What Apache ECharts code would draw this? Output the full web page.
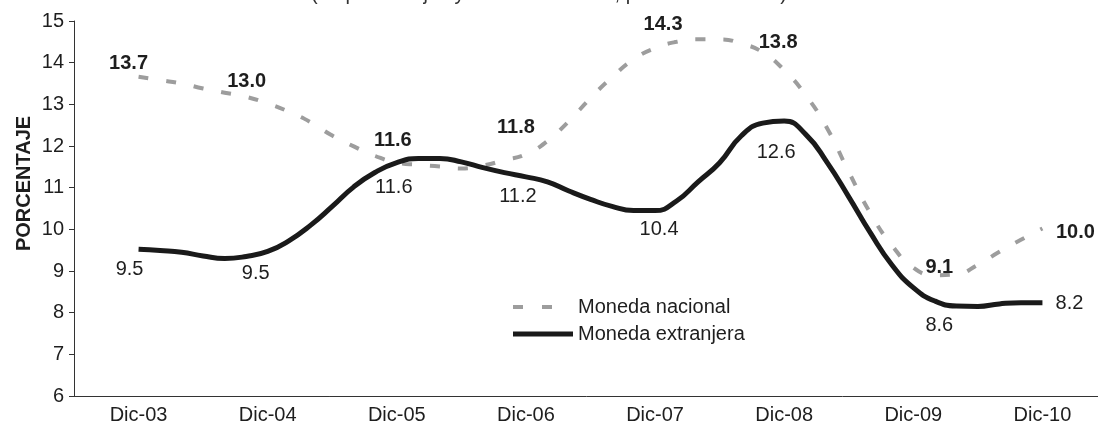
<!DOCTYPE html>
<html>
<head>
<meta charset="utf-8">
<script src="https://cdn.jsdelivr.net/npm/echarts@6/dist/echarts.min.js"></script>
<style>
  html, body { margin: 0; padding: 0; background: #fff; }
  #chart { width: 1098px; height: 427px; }
</style>
</head>
<body>
<div id="chart"></div>
<script>
// etiquetas del eje X (un grupo por año)
const anios = ['Dic-03', 'Dic-04', 'Dic-05', 'Dic-06', 'Dic-07', 'Dic-08', 'Dic-09', 'Dic-10'];
// meses contados desde Dic-03, una lectura cada dos meses
const meses = [0, 2, 4, 6, 8, 10, 12, 14, 16, 18, 20, 22, 24, 26, 28, 30, 32, 34, 36, 38, 40, 42,
  44, 46, 48, 50, 52, 54, 56, 58, 60, 62, 64, 66, 68, 70, 72, 74, 76, 78, 80, 82, 84];
const monedaNacional = [13.66, 13.58, 13.50, 13.38, 13.28, 13.18, 13.02, 12.82, 12.57, 12.25, 11.99,
  11.76, 11.60, 11.55, 11.51, 11.46, 11.53, 11.66, 11.80, 12.12, 12.60, 13.15, 13.65, 14.08, 14.35,
  14.50, 14.56, 14.56, 14.46, 14.25, 13.82, 13.22, 12.42, 11.38, 10.39, 9.62, 9.08, 8.90, 8.92,
  9.15, 9.46, 9.75, 10.02];
const monedaExtranjera = [9.52, 9.49, 9.45, 9.36, 9.30, 9.35, 9.47, 9.73, 10.10, 10.55, 11.02,
  11.37, 11.60, 11.70, 11.70, 11.62, 11.48, 11.36, 11.26, 11.14, 10.92, 10.72, 10.55, 10.45, 10.45,
  10.68, 11.14, 11.60, 12.24, 12.55, 12.60, 12.28, 11.60, 10.78, 9.92, 9.15, 8.60, 8.28, 8.16,
  8.15, 8.21, 8.24, 8.24];
// valores rotulados a diciembre de cada año
const rotulosMN = ['13.7', '13.0', '11.6', '11.8', '14.3', '13.8', '9.1', '10.0'];
const rotulosME = ['9.5', '9.5', '11.6', '11.2', '10.4', '12.6', '8.6', '8.2'];

const fuente = 'Liberation Sans, Arial, sans-serif';
// desplazamiento de cada rótulo respecto a su punto
const despMN = [[-10, -13], [-21, -22], [-4, -22], [-10, -27], [8, -24], [-6, -28], [26, 0], [33, 4]];
const despME = [[-9, 20], [-12, 22], [-3, 25], [-8, 20], [4, 19], [-8, 31], [26, 38], [27, 1]];

function armarSerie(valores, rotulos, desp, negrita) {
  return valores.map((v, i) => {
    const punto = { value: [meses[i] + 6, v] };
    if (meses[i] % 12 === 0) {
      const k = meses[i] / 12;
      punto.label = {
        show: true, position: 'inside', offset: desp[k], formatter: rotulos[k],
        fontSize: 20, fontFamily: fuente, color: '#1e1e1e',
        fontWeight: negrita ? 'bold' : 'normal'
      };
    }
    return punto;
  });
}

const chart = echarts.init(document.getElementById('chart'));
chart.setOption({
  animation: false,
  title: {
    text: '(en porcentajes y tasas nominales, promedio del año)',
    left: 'center', top: -21,
    textStyle: { fontSize: 20, fontWeight: 'normal', color: '#333', fontFamily: fuente }
  },
  legend: {
    orient: 'vertical', left: 513, top: 297, padding: 0,
    itemWidth: 60, itemHeight: 5, itemGap: 7,
    textStyle: { fontSize: 20, color: '#1e1e1e', fontFamily: fuente },
    data: [
      { name: 'Moneda nacional', icon: 'path://M0,0h10v4h-10zM29,0h10v4h-10zM60,0h0v4h0z', itemStyle: { color: '#9d9d9d' } },
      { name: 'Moneda extranjera', icon: 'rect', itemStyle: { color: '#1a1a1a' } }
    ]
  },
  grid: { left: 74, right: -9, top: 21, bottom: 31, outerBoundsMode: 'none' },
  xAxis: [
    {
      type: 'category', data: anios, boundaryGap: true,
      axisLine: { lineStyle: { color: '#333', width: 1 } },
      axisTick: { length: 5, lineStyle: { color: '#333' } },
      axisLabel: { fontSize: 20, color: '#1e1e1e', fontFamily: fuente, margin: 9 }
    },
    { type: 'value', min: 0, max: 96, show: false }
  ],
  yAxis: {
    type: 'value', min: 6, max: 15, interval: 1,
    name: 'PORCENTAJE', nameLocation: 'middle', nameRotate: 90, nameGap: 40, nameMoveOverlap: false,
    nameTextStyle: { fontSize: 20, fontWeight: 'bold', color: '#1e1e1e', fontFamily: fuente, padding: [0, 0, 0, 50] },
    axisLine: { show: true, lineStyle: { color: '#333', width: 1 } },
    axisTick: { show: true, length: 5, lineStyle: { color: '#333' } },
    axisLabel: { fontSize: 20, color: '#1e1e1e', fontFamily: fuente, margin: 10 },
    splitLine: { show: false }
  },
  series: [
    {
      name: 'Moneda nacional', type: 'line', xAxisIndex: 1, smooth: true,
      symbol: 'circle', symbolSize: 1, showAllSymbol: true,
      itemStyle: { color: 'rgba(0,0,0,0)' },
      lineStyle: { color: '#9d9d9d', width: 4, type: [10, 18] },
      emphasis: { disabled: true },
      data: armarSerie(monedaNacional, rotulosMN, despMN, true)
    },
    {
      name: 'Moneda extranjera', type: 'line', xAxisIndex: 1, smooth: true,
      symbol: 'circle', symbolSize: 1, showAllSymbol: true,
      itemStyle: { color: 'rgba(0,0,0,0)' },
      lineStyle: { color: '#1a1a1a', width: 5 },
      emphasis: { disabled: true },
      data: armarSerie(monedaExtranjera, rotulosME, despME, false)
    }
  ]
});
</script>
</body>
</html>
